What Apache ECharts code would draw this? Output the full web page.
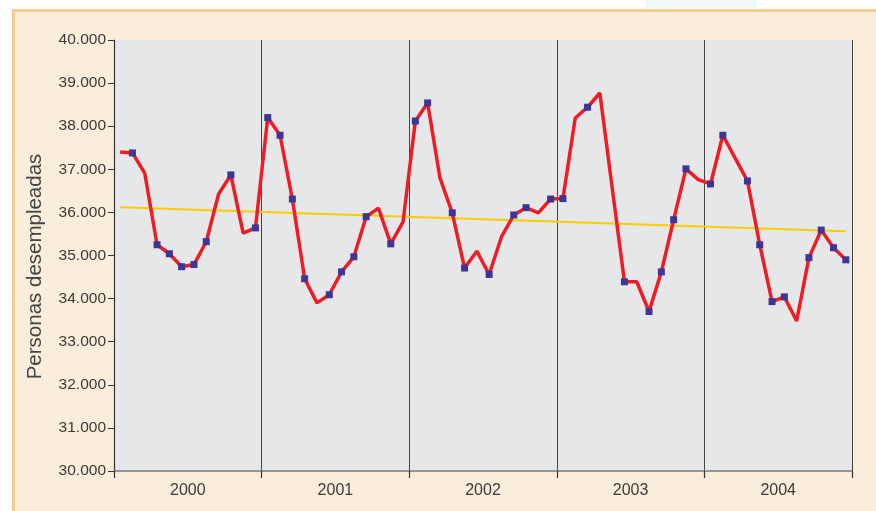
<!DOCTYPE html>
<html>
<head>
<meta charset="utf-8">
<script src="https://cdn.jsdelivr.net/npm/echarts@6/dist/echarts.min.js"></script>
<style>
  html, body { margin: 0; padding: 0; background: #fff; }
  #tab {
    position: absolute; left: 645px; top: 0; width: 112px; height: 8px; background: #f2f8f8;
  }
  #frame {
    position: absolute; left: 12px; top: 9px; width: 864px; height: 502px;
    background: #fbeddb; border-left: 3px solid #f5cc90; border-top: 3px solid #f5cc90;
  }
  #chart { position: absolute; left: 0; top: 0; width: 876px; height: 511px; }
</style>
</head>
<body>
<div id="tab"></div>
<div id="frame"></div>
<div id="chart"></div>
<script>
// years shown on the axis
const years = ['2000', '2001', '2002', '2003', '2004'];

// monthly unemployed people, Jan 2000 .. Dec 2004
const desempleados = [
  37400, 37380, 36910, 35250, 35040, 34740, 34790, 35320, 36420, 36870, 35520, 35640,
  38200, 37790, 36310, 34460, 33900, 34090, 34620, 34970, 35900, 36100, 35270, 35780,
  38120, 38540, 36800, 35990, 34710, 35100, 34560, 35430, 35940, 36110, 35990, 36310,
  36320, 38190, 38440, 38770, 36580, 34390, 34390, 33700, 34620, 35830, 37010, 36760,
  36660, 37790, 37260, 36730, 35250, 33930, 34040, 33480, 34950, 35590, 35180, 34900
];

// 1 = point drawn with a square marker
const marcado = [
  0, 1, 0, 1, 1, 1, 1, 1, 0, 1, 0, 1,
  1, 1, 1, 1, 0, 1, 1, 1, 1, 0, 1, 0,
  1, 1, 0, 1, 1, 0, 1, 0, 1, 1, 0, 1,
  1, 0, 1, 0, 0, 1, 0, 1, 1, 1, 1, 0,
  1, 1, 0, 1, 1, 1, 1, 0, 1, 1, 1, 1
];

// trend line: first and last month
const tendencia = [36120, 35560];

const months = desempleados.map((v, i) => 'm' + i);

const lineData = desempleados.map((v, i) =>
  marcado[i] ? v : { value: v, symbol: 'none' }
);
const trendData = months.map((m, i) =>
  i === 0 ? tendencia[0] : (i === months.length - 1 ? tendencia[1] : null)
);

const chart = echarts.init(document.getElementById('chart'));
const txt = '#3a3a3a';
const font = '"Liberation Sans", "Noto Sans", sans-serif';

chart.setOption({
  backgroundColor: 'transparent',
  animation: false,
  grid: { left: 114, right: 24, top: 40, bottom: 40, backgroundColor: '#e6e7e9', show: true, borderWidth: 0 },
  xAxis: [
    {
      type: 'category',
      data: months,
      boundaryGap: true,
      show: false
    },
    {
      type: 'category',
      data: years,
      position: 'bottom',
      boundaryGap: true,
      axisLine: { lineStyle: { color: '#7a7a7a', width: 1.5 } },
      axisTick: { show: true, length: 7, lineStyle: { color: '#333', width: 1.2 } },
      axisLabel: { color: txt, fontSize: 16, fontFamily: font, margin: 12 },
      splitLine: { show: true, lineStyle: { color: '#444', width: 1 } }
    }
  ],
  yAxis: {
    type: 'value',
    min: 30000,
    max: 40000,
    interval: 1000,
    name: 'Personas desempleadas',
    nameLocation: 'middle',
    nameGap: 68,
    nameTextStyle: { color: '#444', fontSize: 20.5, fontFamily: font, padding: [0, 22, 0, 0] },
    axisLine: { show: true, lineStyle: { color: '#333', width: 1.2 } },
    axisTick: { show: true, length: 6, lineStyle: { color: '#333' } },
    axisLabel: {
      color: txt, fontSize: 15.5, fontFamily: font, margin: 8,
      formatter: (v) => (v / 1000).toFixed(3)
    },
    splitLine: { show: false }
  },
  series: [
    {
      type: 'line',
      xAxisIndex: 0,
      data: trendData,
      connectNulls: true,
      symbol: 'none',
      lineStyle: { color: '#ffcc00', width: 2 },
      z: 2
    },
    {
      type: 'line',
      xAxisIndex: 0,
      data: lineData,
      symbol: 'rect',
      symbolSize: 7,
      itemStyle: { color: '#3f3594' },
      lineStyle: { color: '#ee1c25', width: 3.5 },
      z: 3
    }
  ]
});
</script>
</body>
</html>
